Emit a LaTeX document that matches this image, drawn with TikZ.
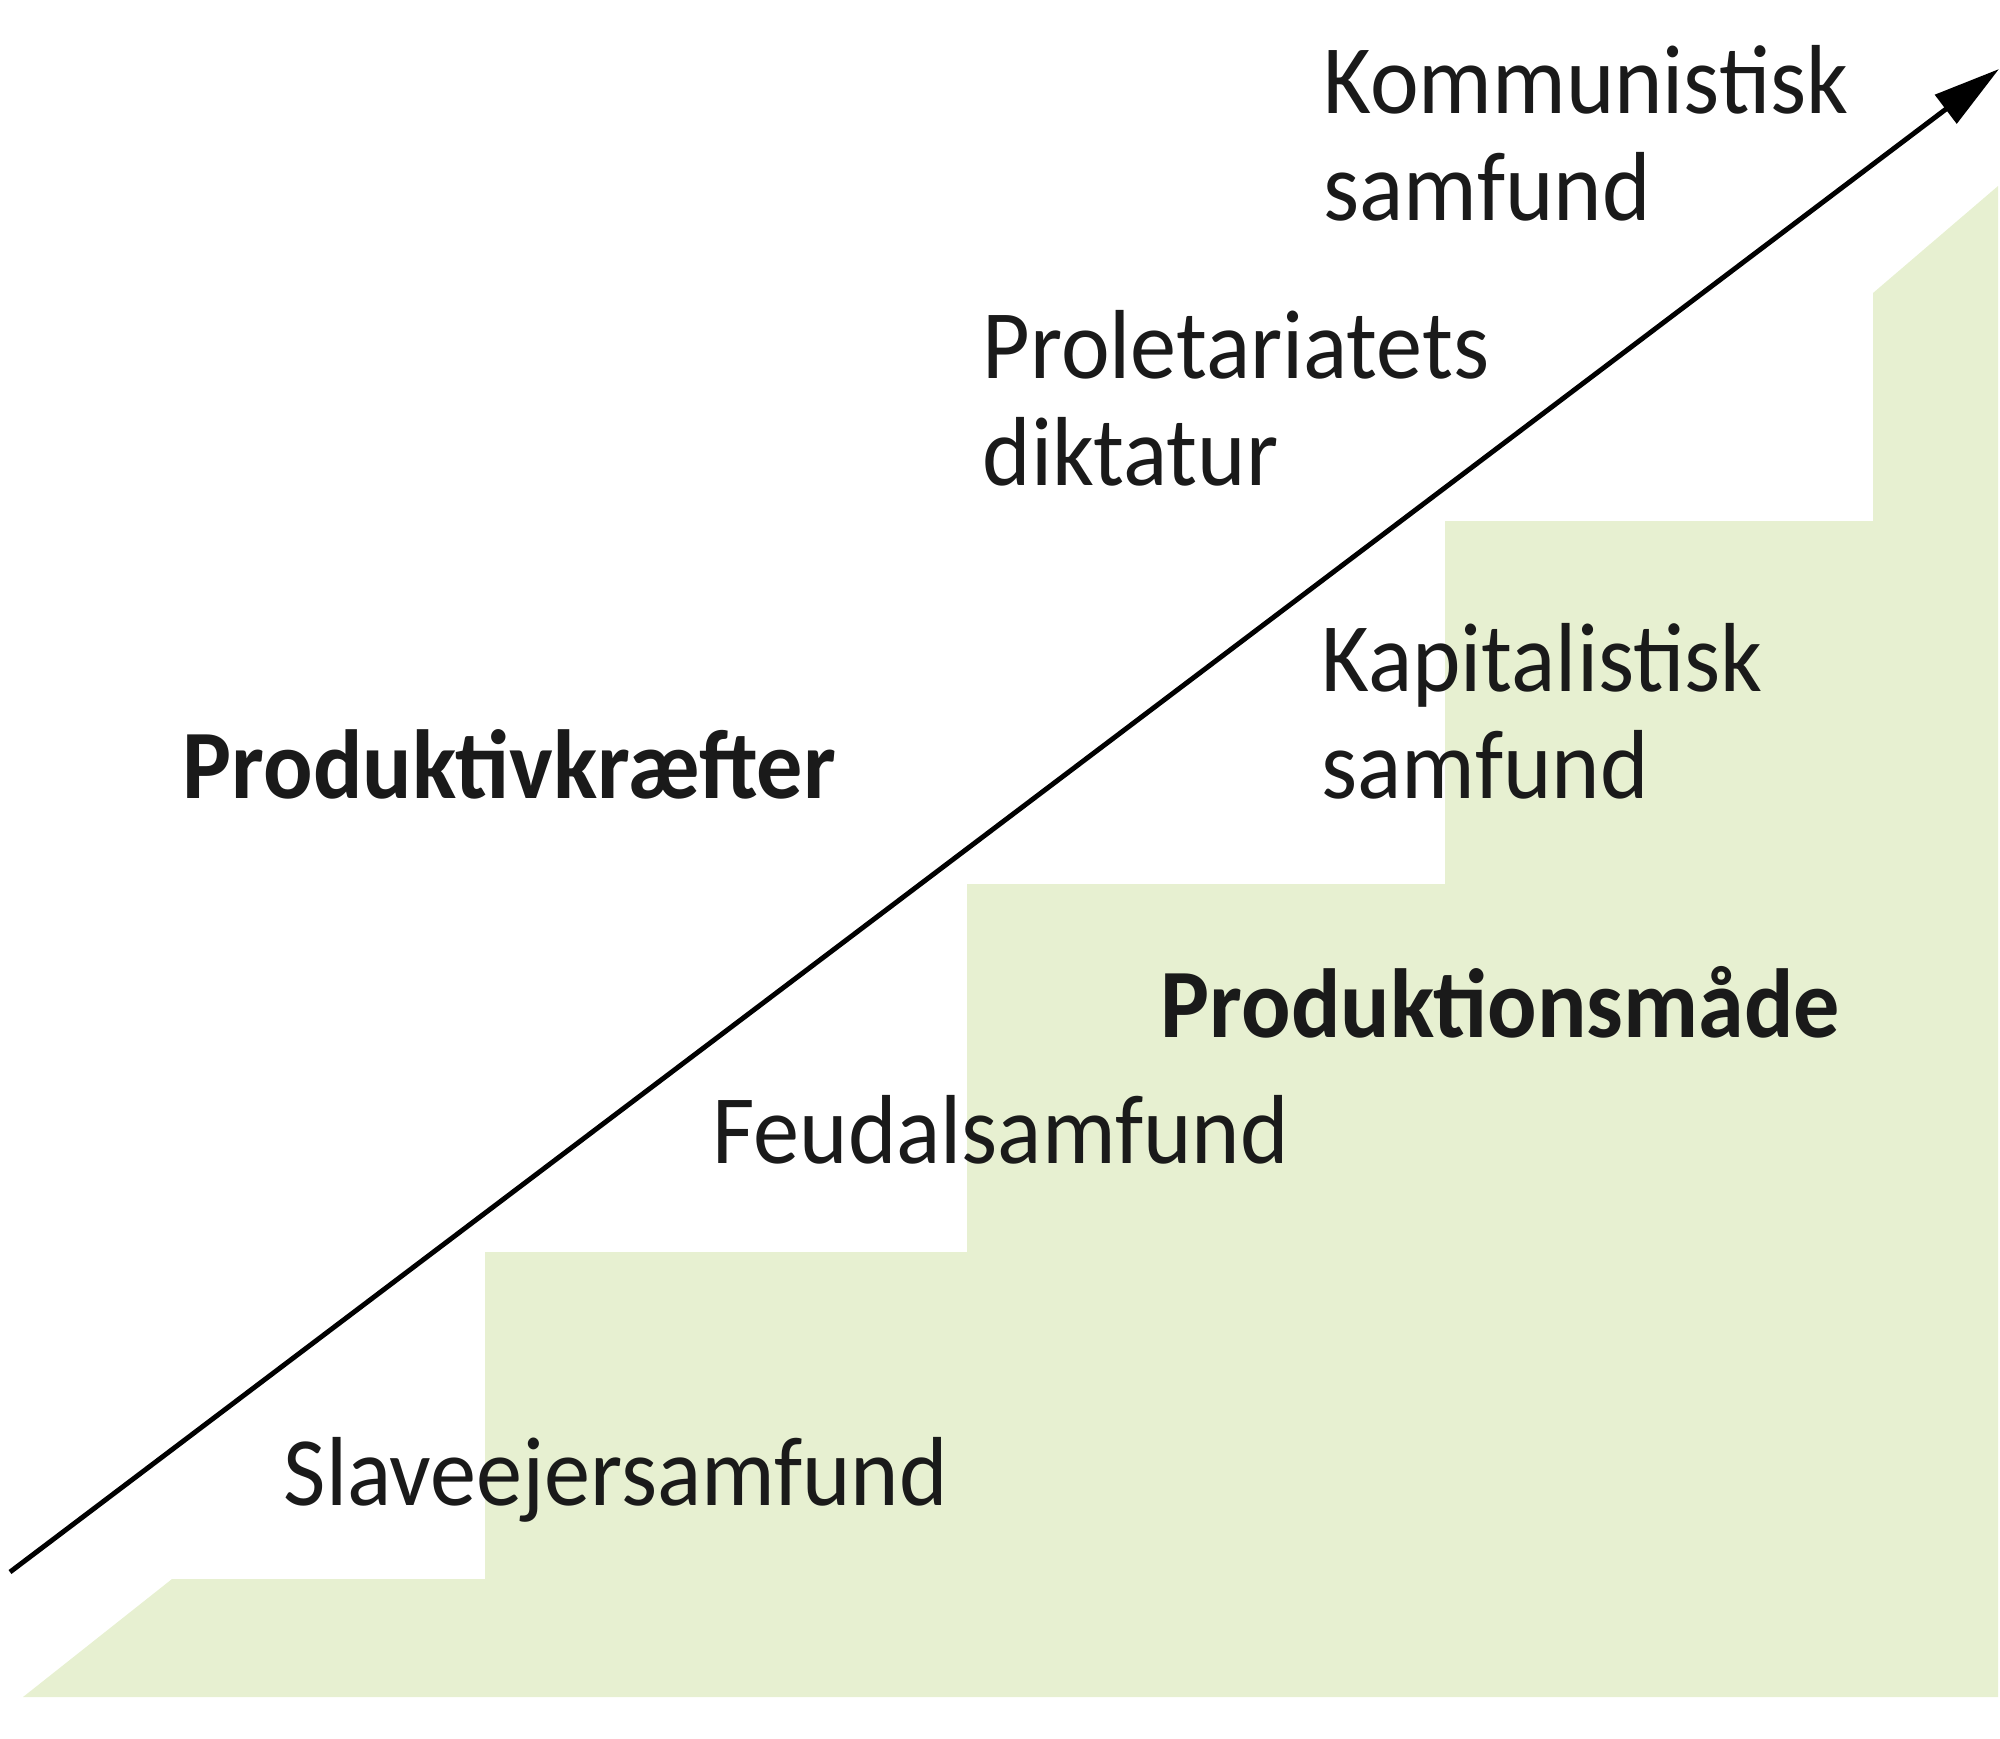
\documentclass[tikz,border=0pt]{standalone}
\usepackage{fontspec}
\setmainfont{Carlito}[FakeStretch=0.94]
\usepackage{xcolor}
\usepackage{tikz}
\usetikzlibrary{positioning,arrows.meta}
\definecolor{stepbg}{RGB}{231,240,209}
\definecolor{textdark}{RGB}{26,26,26}

\tikzset{
    stage/.style={anchor=base west, inner sep=0pt, align=left, text=textdark,
        font=\fontsize{27.9}{30.4}\selectfont},
    force/.style={stage, font=\fontsize{27.9}{30.4}\selectfont\bfseries}
}

\begin{document}
\begin{tikzpicture}[x=0.01cm, y=-0.01cm]
    \useasboundingbox (0,0) rectangle (2000,1738);

    % Staircase
    \fill[stepbg] (23,1697) -- (172,1579) -- (485,1579) -- (485,1252)
        -- (967,1252) -- (967,884) -- (1445,884) -- (1445,521)
        -- (1873,521) -- (1873,293) -- (1998,186) -- (1998,1697) -- cycle;

    % Arrow
    \coordinate (low) at (10,1572);
    \coordinate (high) at (1999,69);
    \draw[line width=1.4pt, -{Triangle[length=19pt, width=10pt]}] (low) -- (high);

    % Stages (two-line labels sit on the baseline of their last line)
    \node[stage] (slave) at (283,1505) {Slaveejersamfund};
    \node[stage] (feudal) at (712,1163) {Feudalsamfund};
    \node[stage] (kapital) at (1321,798) {Kapitalistisk\\samfund};
    \node[stage] (prolet) at (982,485) {Proletariatets\\diktatur};
    \node[stage] (kommun) at (1323,220) {Kommunistisk\\samfund};

    % Axis labels
    \node[force] (kraefter) at (182,798) {Produktivkræfter};
    \node[force] (maade) at (1160,1037) {Produktionsmåde};
\end{tikzpicture}
\end{document}
